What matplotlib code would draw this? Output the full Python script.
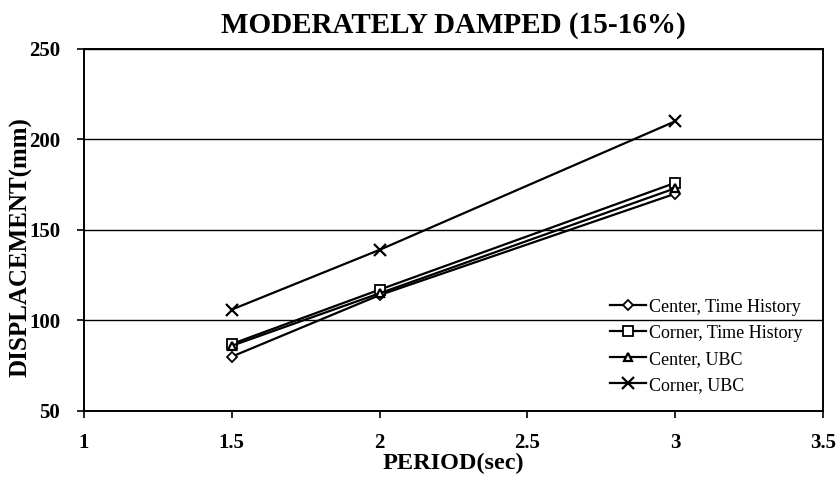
import matplotlib
matplotlib.use("Agg")
import matplotlib.pyplot as plt

# Data
period = [1.5, 2, 3]
center_th = [80, 114, 170]
corner_th = [87, 117, 176]
center_ubc = [86, 115, 173]
corner_ubc = [106, 139, 210]

plt.rcParams['font.family'] = ['Liberation Serif', 'DejaVu Serif']

fig = plt.figure(figsize=(8.39, 4.79), dpi=100)
ax = fig.add_axes([0.100, 0.142, 0.881, 0.756])

ax.plot(period, center_th, color='black', lw=1.6, marker='D', ms=5,
        mfc='white', mec='black', mew=1.3, label='Center, Time History')
ax.plot(period, corner_th, color='black', lw=1.6, marker='s', ms=7,
        mfc='white', mec='black', mew=1.3, label='Corner, Time History')
ax.plot(period, center_ubc, color='black', lw=1.6, marker='^', ms=6,
        mfc='white', mec='black', mew=1.6, label='Center, UBC')
ax.plot(period, corner_ubc, color='black', lw=1.6, marker='x', ms=8,
        mew=1.6, label='Corner, UBC')

ax.set_xlim(1, 3.5)
ax.set_ylim(50, 250)
ax.set_xticks([1, 1.5, 2, 2.5, 3, 3.5])
ax.set_xticklabels(['1', '1.5', '2', '2.5', '3', '3.5'])
ax.set_yticks([50, 100, 150, 200, 250])
ax.yaxis.grid(True, color='black', lw=1)
ax.set_axisbelow(True)
for s in ax.spines.values():
    s.set_linewidth(1.4)
ax.tick_params(direction='out', length=5, width=1.2, labelsize=15)
ax.tick_params(axis='y', pad=12)
ax.tick_params(axis='x', pad=11)
for lab in ax.get_xticklabels() + ax.get_yticklabels():
    lab.set_fontweight('bold')

ax.set_title('MODERATELY DAMPED (15-16%)', fontsize=21, fontweight='bold', pad=12)
ax.set_xlabel('PERIOD(sec)', fontsize=17.5, fontweight='bold', labelpad=0)
ax.set_ylabel('DISPLACEMENT(mm)', fontsize=18, fontweight='bold')
ax.yaxis.set_label_coords(-0.070, 0.453)

leg = ax.legend(loc='upper left', bbox_to_anchor=(0.712, 0.31), fontsize=13,
                frameon=False, borderaxespad=0, borderpad=0,
                handlelength=2.0, handletextpad=0.15, labelspacing=0.5)

fig.savefig('out.png', dpi=100)
